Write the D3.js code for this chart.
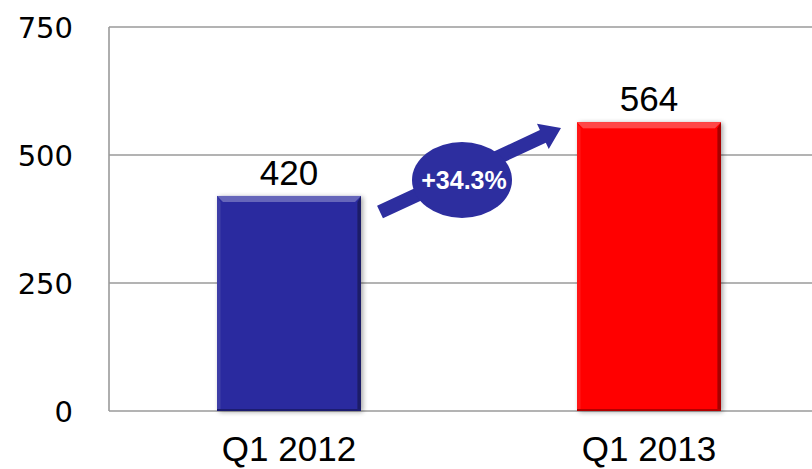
<!DOCTYPE html>
<html>
<head>
<meta charset="utf-8">
<script src="https://cdn.jsdelivr.net/npm/d3@7"></script>
<style>
  html, body { margin: 0; padding: 0; background: #fff; }
  svg { display: block; }
</style>
</head>
<body>
<svg id="chart" width="812" height="469"></svg>
<script>
const categories = ["Q1 2012", "Q1 2013"];
const values = [420, 564];
const barColors = ["#2B2B9F", "#FF0000"];
const yTicks = [0, 250, 500, 750];
const changeLabel = "+34.3%";

const svg = d3.select("#chart");
const W = 812, H = 469;
const margin = { left: 109, top: 27, bottom: 58 };
const plotRight = 829;

const x = d3.scaleBand().domain(categories).range([margin.left, plotRight]).paddingInner(0.6).paddingOuter(0.3);
const y = d3.scaleLinear().domain([0, 750]).range([H - margin.bottom, margin.top]);

const defs = svg.append("defs");
const shadow = defs.append("filter").attr("id", "shadow").attr("x", "-20%").attr("y", "-10%").attr("width", "140%").attr("height", "120%");
shadow.append("feGaussianBlur").attr("in", "SourceAlpha").attr("stdDeviation", 2.5);
shadow.append("feOffset").attr("dx", 2).attr("dy", 1).attr("result", "ob");
shadow.append("feComponentTransfer").append("feFuncA").attr("type", "linear").attr("slope", 0.35);
const mg = shadow.append("feMerge");
mg.append("feMergeNode");
mg.append("feMergeNode").attr("in", "SourceGraphic");

// gridlines
const grid = svg.append("g");
grid.selectAll("line").data(yTicks).join("line")
  .attr("x1", margin.left).attr("x2", W)
  .attr("y1", d => y(d)).attr("y2", d => y(d))
  .attr("stroke", "#9a9a9a").attr("stroke-width", 1.6);
grid.append("line")
  .attr("x1", margin.left).attr("x2", margin.left)
  .attr("y1", y(750)).attr("y2", y(0))
  .attr("stroke", "#9a9a9a").attr("stroke-width", 1.6);

// y labels
svg.append("g").selectAll("text").data(yTicks).join("text")
  .attr("x", 73).attr("y", d => y(d) + 11)
  .attr("text-anchor", "end")
  .attr("font-family", "DejaVu Sans, sans-serif")
  .attr("font-size", 29).attr("fill", "#000")
  .text(d => d);

// bars with bevel
const bev = 6;
const bars = svg.append("g").selectAll("g").data(values).join("g").attr("filter", "url(#shadow)");
bars.each(function(d, i) {
  const g = d3.select(this);
  const x0 = x(categories[i]), x1 = x0 + x.bandwidth();
  const y0 = y(d), y1 = y(0);
  const c = d3.color(barColors[i]);
  g.append("rect").attr("x", x0).attr("y", y0).attr("width", x1 - x0).attr("height", y1 - y0).attr("fill", c);
  g.append("path").attr("d", `M${x0},${y0}L${x1},${y0}L${x1-bev},${y0+bev}L${x0+bev},${y0+bev}Z`)
    .attr("fill", d3.interpolateRgb(c, "#fff")(0.28));
  g.append("path").attr("d", `M${x0},${y0}L${x0+bev*0.6},${y0+bev}L${x0+bev*0.6},${y1}L${x0},${y1}Z`)
    .attr("fill", d3.interpolateRgb(c, "#fff")(0.08));
  g.append("path").attr("d", `M${x1},${y0}L${x1-bev*0.6},${y0+bev}L${x1-bev*0.6},${y1}L${x1},${y1}Z`)
    .attr("fill", d3.interpolateRgb(c, "#000")(0.35));
  g.append("rect").attr("x", x0).attr("y", y1 - 2).attr("width", x1 - x0).attr("height", 2)
    .attr("fill", d3.interpolateRgb(c, "#000")(0.3));
});

// value labels
svg.append("g").selectAll("text").data(values).join("text")
  .attr("x", (d, i) => x(categories[i]) + x.bandwidth() / 2)
  .attr("y", d => y(d) - 11)
  .attr("text-anchor", "middle")
  .attr("font-family", "Liberation Sans, Arial, sans-serif")
  .attr("font-size", 35).attr("fill", "#000")
  .text(d => d);

// category labels
svg.append("g").selectAll("text").data(categories).join("text")
  .attr("x", d => x(d) + x.bandwidth() / 2)
  .attr("y", 461)
  .attr("text-anchor", "middle")
  .attr("font-family", "Liberation Sans, Arial, sans-serif")
  .attr("font-size", 35).attr("fill", "#000")
  .text(d => d);

// growth arrow annotation
const ac = "#2D2E9F";
const sx = x(categories[0]) + x.bandwidth() + 19, sy = 212;
const ex = x(categories[1]) - 16, ey = 128;
const len = Math.hypot(ex - sx, ey - sy);
const ang = Math.atan2(ey - sy, ex - sx) * 180 / Math.PI;
const sw = 7, hw = 14, hl = 20;
svg.append("path")
  .attr("transform", `translate(${sx},${sy}) rotate(${ang})`)
  .attr("d", `M0,${-sw}L${len-hl},${-sw}L${len-hl},${-hw}L${len},0L${len-hl},${hw}L${len-hl},${sw}L0,${sw}Z`)
  .attr("fill", ac);
svg.append("ellipse").attr("cx", 462).attr("cy", 180).attr("rx", 50).attr("ry", 38).attr("fill", ac);
svg.append("text").attr("x", 464).attr("y", 189)
  .attr("text-anchor", "middle")
  .attr("font-family", "Liberation Sans, Arial, sans-serif")
  .attr("font-weight", "bold").attr("font-size", 25).attr("fill", "#fff")
  .text(changeLabel);
</script>
</body>
</html>
